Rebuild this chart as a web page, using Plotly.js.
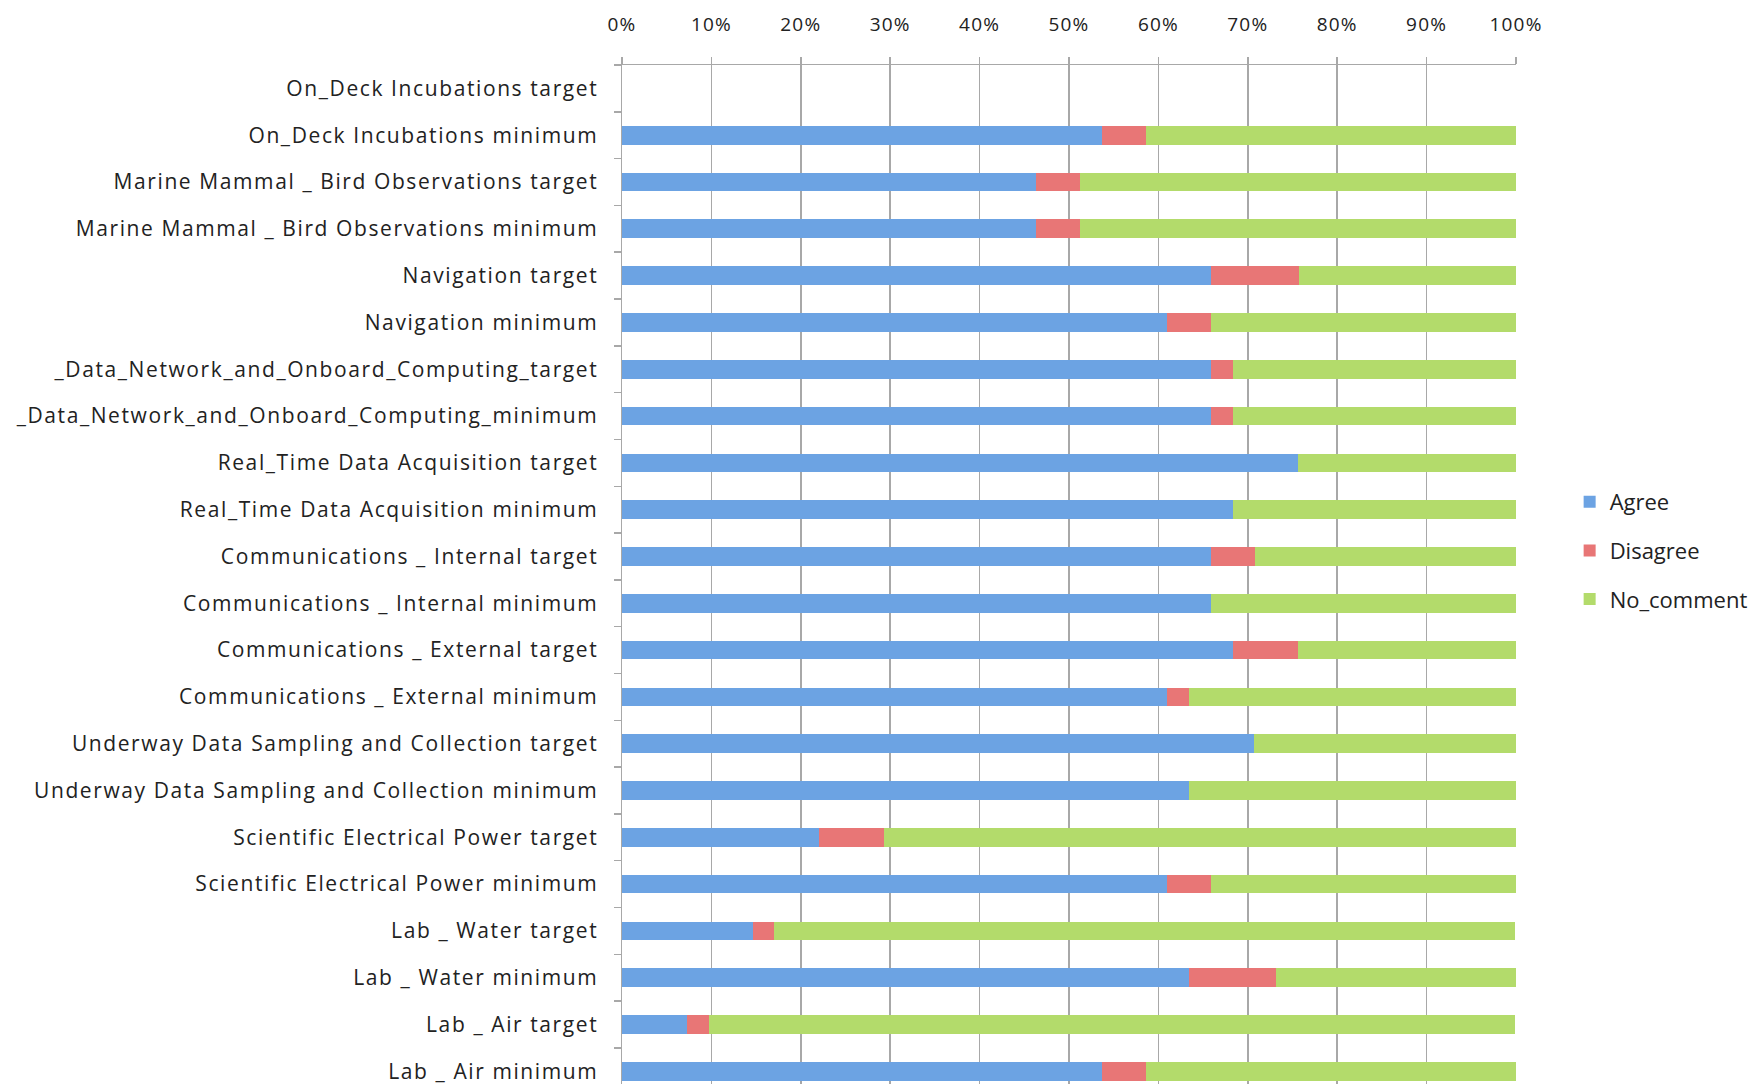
<!DOCTYPE html>
<html>
<head>
<meta charset="utf-8">
<script src="https://cdn.plot.ly/plotly-3.0.1.min.js"></script>
<style>
html,body{margin:0;padding:0;background:#fff;overflow:hidden;}
#chart{width:1758px;height:1084px;}
#chart .ytick text{letter-spacing:1.6px;}
#chart .xtick text{letter-spacing:1.2px;}
</style>
</head>
<body>
<div id="chart"></div>
<script>
const categories = [
  "On_Deck Incubations target",
  "On_Deck Incubations minimum",
  "Marine Mammal _ Bird Observations target",
  "Marine Mammal _ Bird Observations minimum",
  "Navigation target",
  "Navigation minimum",
  "_Data_Network_and_Onboard_Computing_target",
  "_Data_Network_and_Onboard_Computing_minimum",
  "Real_Time Data Acquisition target",
  "Real_Time Data Acquisition minimum",
  "Communications _ Internal target",
  "Communications _ Internal minimum",
  "Communications _ External target",
  "Communications _ External minimum",
  "Underway Data Sampling and Collection target",
  "Underway Data Sampling and Collection minimum",
  "Scientific Electrical Power target",
  "Scientific Electrical Power minimum",
  "Lab _ Water target",
  "Lab _ Water minimum",
  "Lab _ Air target",
  "Lab _ Air minimum"
];
// percent of responses
const agree = [0, 53.7, 46.3, 46.3, 65.9, 61.0, 65.9, 65.9, 75.6, 68.3, 65.9, 65.9, 68.3, 61.0, 70.7, 63.4, 22.0, 61.0, 14.6, 63.4, 7.3, 53.7];
const disagree = [0, 4.9, 4.9, 4.9, 9.8, 4.9, 2.4, 2.4, 0, 0, 4.9, 0, 7.3, 2.4, 0, 0, 7.3, 4.9, 2.4, 9.8, 2.4, 4.9];
const noComment = [0, 41.5, 48.8, 48.8, 24.4, 34.1, 31.7, 31.7, 24.4, 31.7, 29.3, 34.1, 24.4, 36.6, 29.3, 36.6, 70.7, 34.1, 82.9, 26.8, 90.2, 41.5];
const seriesNames = ["Agree", "Disagree", "No_comment"];
const seriesColors = ["#6ca3e3", "#e87676", "#b3db6b"];
const xTicks = [0,10,20,30,40,50,60,70,80,90,100];

const fontFam = "'Open Sans', Lato, sans-serif";
const values = [agree, disagree, noComment];
const traces = values.map((v, i) => ({
  type: "bar",
  orientation: "h",
  name: seriesNames[i],
  legendgroup: seriesNames[i],
  x: v,
  y: categories,
  marker: {color: seriesColors[i], line: {width: 0}},
  hoverinfo: "x+y+name"
}));

const layout = {
  width: 1758,
  height: 1084,
  barmode: "stack",
  bargap: 0.6,
  paper_bgcolor: "#ffffff",
  plot_bgcolor: "#ffffff",
  margin: {l: 622, r: 242, t: 65, b: 0},
  font: {family: fontFam, size: 21, color: "#222"},
  xaxis: {
    side: "top",
    range: [0, 100],
    tickvals: xTicks,
    ticktext: xTicks.map(t => t + "%"),
    showgrid: true,
    gridcolor: "#a8a8a8",
    gridwidth: 1.5,
    zeroline: false,
    showline: true,
    linecolor: "#a8a8a8",
    linewidth: 1.5,
    ticks: "outside",
    ticklen: 7,
    tickcolor: "#a8a8a8",
    tickwidth: 1.5,
    ticklabelstandoff: 18,
    tickfont: {family: fontFam, size: 19, color: "#222"},
    fixedrange: true
  },
  yaxis: {
    type: "category",
    categoryorder: "array",
    categoryarray: categories,
    range: [21.27, -0.5],
    showgrid: false,
    zeroline: false,
    showline: true,
    linecolor: "#a8a8a8",
    linewidth: 1.5,
    ticks: "outside",
    tickson: "boundaries",
    ticklen: 7,
    tickcolor: "#a8a8a8",
    tickwidth: 1.5,
    ticklabelstandoff: 18,
    tickfont: {family: fontFam, size: 21, color: "#222"},
    fixedrange: true
  },
  showlegend: true,
  legend: {
    x: 1.06,
    xanchor: "left",
    y: 0.5235,
    yanchor: "middle",
    traceorder: "grouped",
    tracegroupgap: 17,
    font: {family: fontFam, size: 22, color: "#222"},
    bgcolor: "rgba(0,0,0,0)",
    itemclick: false
  }
};

Plotly.newPlot("chart", traces, layout, {displayModeBar: false, staticPlot: true});
</script>
</body>
</html>
